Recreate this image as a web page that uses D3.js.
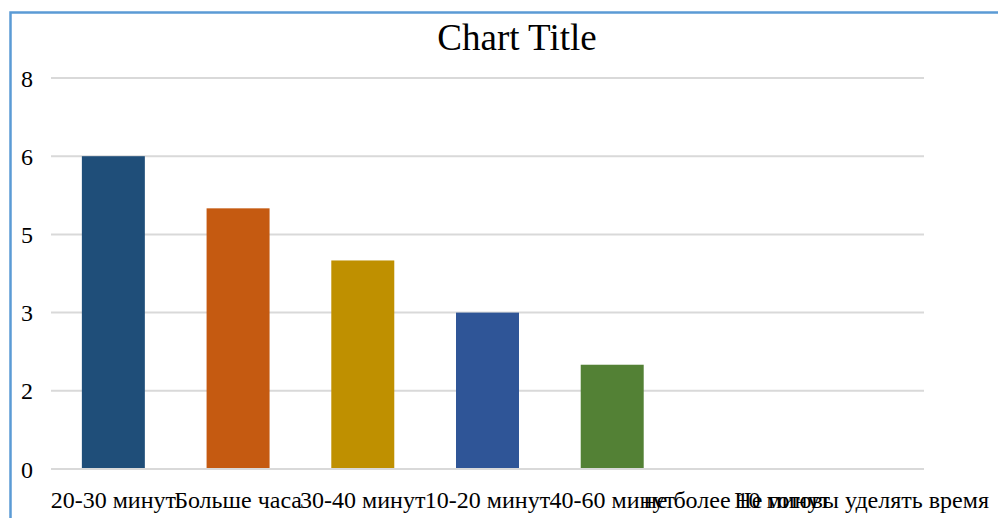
<!DOCTYPE html>
<html><head><meta charset="utf-8">
<script src="https://cdn.jsdelivr.net/npm/d3@7"></script>
<style>html,body{margin:0;padding:0;background:#fff;overflow:hidden}</style>
</head><body>
<svg id="c" width="998" height="518"></svg>
<script>
const categories = ["20-30 минут","Больше часа","30-40 минут","10-20 минут","40-60 минут","не более 10 минут","Не готовы уделять время"];
const values = [6,5,4,3,2,0,0];
const colors = ["#1f4e79","#c55a11","#bf9000","#2f5597","#538135","#843c0c","#7f6000"];
const yTicks = [0,1.5,3,4.5,6,7.5];
const yTickLabels = ["0","2","3","5","6","8"];
const title = "Chart Title";

const svg = d3.select("#c");
const font = "'Liberation Serif','DejaVu Serif',serif";
svg.append("rect").attr("x",10.5).attr("y",12.5).attr("width",1100).attr("height",600)
  .attr("fill","#fff").attr("stroke","#5b9bd5").attr("stroke-width",2.5);

const x = d3.scaleBand().domain(categories).range([51,924]).paddingInner(0.495).paddingOuter(0.2475);
const y = d3.scaleLinear().domain([0,7.5]).range([469,78]);

svg.append("g").selectAll("line").data(yTicks).join("line")
  .attr("x1",51).attr("x2",924).attr("y1",d=>y(d)).attr("y2",d=>y(d))
  .attr("stroke","#d9d9d9").attr("stroke-width",2);

svg.append("g").selectAll("text").data(yTicks).join("text")
  .attr("x",33).attr("y",d=>y(d)).attr("dy","0.36em").attr("text-anchor","end")
  .attr("font-family",font).attr("font-size",24).attr("fill","#000")
  .text((d,i)=>yTickLabels[i]);

svg.append("g").selectAll("rect").data(values).join("rect")
  .attr("x",(d,i)=>x(categories[i])).attr("width",x.bandwidth())
  .attr("y",d=>y(d)).attr("height",d=>Math.max(0,y(0)-y(d)-1))
  .attr("fill",(d,i)=>colors[i]);

svg.append("g").selectAll("text").data(categories).join("text")
  .attr("x",d=>x(d)+x.bandwidth()/2).attr("y",508).attr("text-anchor","middle")
  .attr("font-family",font).attr("font-size",24).attr("fill","#000")
  .text(d=>d);

svg.append("text").attr("x",517).attr("y",50).attr("text-anchor","middle")
  .attr("font-family",font).attr("font-size",37).attr("fill","#000").text(title);
</script>
</body></html>
